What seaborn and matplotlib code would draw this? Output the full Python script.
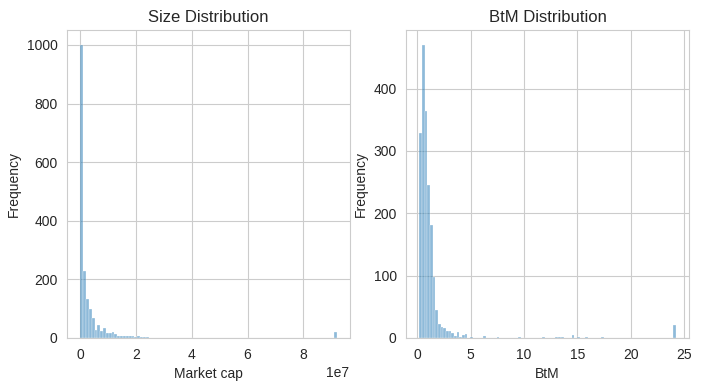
import numpy as np
import pandas as pd
import seaborn as sns
import matplotlib
matplotlib.use("Agg")
import matplotlib.pyplot as plt

# histogram counts (one entry per bin)
size_lo, size_hi, size_nbins = 0.0, 9.2e7, 90
size_counts = [1000, 228, 133, 99, 68, 28, 45, 24, 34, 18,
               18, 21, 12, 6, 8, 7, 5, 8, 7, 4,
               5, 3, 2, 2, 1, 0, 0, 0, 1, 1,
               1, 1, 1, 1, 1, 1, 1, 1, 1, 1,
               1, 0, 0, 0, 0, 0, 0, 0, 0, 0,
               0, 0, 0, 0, 0, 0, 0, 0, 0, 0,
               0, 0, 0, 0, 0, 0, 0, 0, 0, 0,
               0, 0, 0, 0, 0, 0, 0, 0, 0, 0,
               0, 0, 0, 0, 0, 0, 0, 0, 0, 21]

btm_lo, btm_hi, btm_nbins = 0.2, 24.2, 96
btm_counts = [328, 470, 364, 246, 181, 98, 45, 23, 17, 16,
              11, 11, 8, 3, 9, 2, 5, 7, 0, 2,
              0, 0, 0, 0, 3, 0, 0, 0, 0, 1,
              0, 0, 0, 0, 0, 0, 0, 1, 0, 0,
              0, 0, 0, 0, 0, 0, 1, 0, 0, 0,
              0, 1, 1, 2, 0, 0, 0, 4, 0, 1,
              0, 0, 1, 0, 0, 0, 0, 0, 1, 0,
              0, 0, 0, 0, 0, 0, 0, 0, 0, 0,
              0, 0, 0, 0, 0, 0, 0, 0, 0, 0,
              0, 0, 0, 0, 0, 20]

sns.set_style("whitegrid")
plt.rcParams['font.family'] = ['Liberation Sans', 'DejaVu Sans']

fig, (ax1, ax2) = plt.subplots(1, 2, figsize=(7.05, 3.88), dpi=100)
fig.subplots_adjust(left=0.0957, right=0.9766, bottom=0.129, top=0.922, wspace=0.202)

size_edges = np.linspace(size_lo, size_hi, size_nbins + 1)
size_df = pd.DataFrame({"cap": (size_edges[:-1] + size_edges[1:]) / 2,
                        "n": size_counts})
sns.histplot(data=size_df, x="cap", weights="n", bins=list(size_edges),
             alpha=0.5, ax=ax1)
ax1.set_title("Size Distribution")
ax1.set_xlabel("Market cap")
ax1.set_ylabel("Frequency")

btm_edges = np.linspace(btm_lo, btm_hi, btm_nbins + 1)
btm_df = pd.DataFrame({"btm": (btm_edges[:-1] + btm_edges[1:]) / 2,
                       "n": btm_counts})
sns.histplot(data=btm_df, x="btm", weights="n", bins=list(btm_edges),
             alpha=0.5, ax=ax2)
ax2.set_title("BtM Distribution")
ax2.set_xlabel("BtM")
ax2.set_ylabel("Frequency")

plt.savefig("out.png", dpi=100)
